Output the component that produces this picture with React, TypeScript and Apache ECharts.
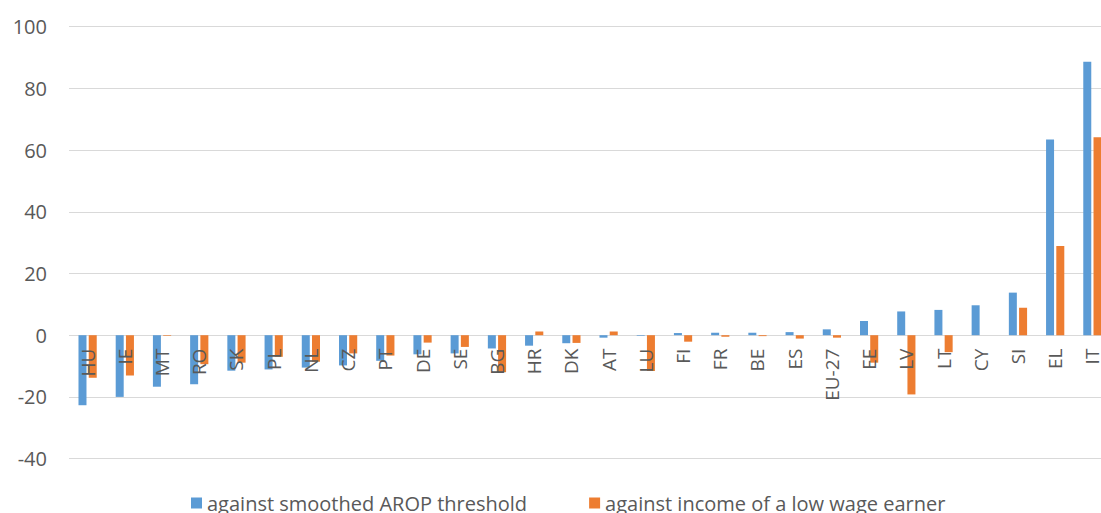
import React, { useEffect, useRef } from "react";
import * as echarts from "echarts";

const categories = ["HU","IE","MT","RO","SK","PL","NL","CZ","PT","DE","SE","BG","HR","DK","AT","LU","FI","FR","BE","ES","EU-27","EE","LV","LT","CY","SI","EL","IT"];
const seriesNames = ["against smoothed AROP threshold", "against income of a low wage earner"];
const arop = [-22.7,-20.0,-16.7,-15.9,-11.5,-11.1,-10.5,-9.8,-8.3,-6.2,-5.9,-4.3,-3.4,-2.6,-0.8,-0.2,0.7,0.8,0.8,1.0,1.9,4.6,7.7,8.2,9.7,13.8,63.4,88.6];
const lowWage = [-13.8,-13.1,-0.2,-9.4,-8.9,-7.0,-8.6,-5.9,-6.6,-2.4,-3.8,-12.0,1.2,-2.5,1.2,-11.6,-2.1,-0.5,-0.3,-1.1,-0.8,-8.9,-19.2,-5.5,0,8.9,28.9,64.2];
const yTicks = { min: -40, max: 100, interval: 20 };

export default function App() {
  const ref = useRef<HTMLDivElement>(null);
  useEffect(() => {
    const chart = echarts.init(ref.current!, null, { renderer: "svg" });
    const font = "'Open Sans', 'Noto Sans', sans-serif";
    chart.setOption({
      animation: false,
      backgroundColor: "#ffffff",
      grid: { left: 69, right: -10, top: 26.7, bottom: 54.4, containLabel: false, outerBoundsMode: "none" },
      legend: {
        data: seriesNames,
        left: 186,
        top: 488,
        icon: "rect",
        itemWidth: 11,
        itemHeight: 11,
        itemGap: 62,
        textStyle: { color: "#595959", fontSize: 20, fontFamily: font },
      },
      xAxis: {
        type: "category",
        data: categories,
        z: 10,
        axisLine: { show: false, onZero: false },
        axisTick: { show: false },
        axisLabel: { rotate: 90, margin: -110, color: "#595959", fontSize: 19, fontFamily: font, interval: 0 },
        splitLine: { show: false },
      },
      yAxis: {
        type: "value",
        min: yTicks.min,
        max: yTicks.max,
        interval: yTicks.interval,
        axisLine: { show: false },
        axisTick: { show: false },
        axisLabel: { margin: 22, color: "#595959", fontSize: 20, fontFamily: font },
        splitLine: { lineStyle: { color: "#d9d9d9", width: 1 } },
      },
      series: [
        { name: seriesNames[0], type: "bar", data: arop, barWidth: 8, barGap: "28%", itemStyle: { color: "#5B9BD5" } },
        { name: seriesNames[1], type: "bar", data: lowWage, barWidth: 8, barGap: "28%", itemStyle: { color: "#ED7D31" } },
      ],
    });
    return () => chart.dispose();
  }, []);
  return (
    <div
      ref={ref}
      style={{ position: "absolute", left: 0, top: 0, width: 1101, height: 513, background: "#fff" }}
    />
  );
}
